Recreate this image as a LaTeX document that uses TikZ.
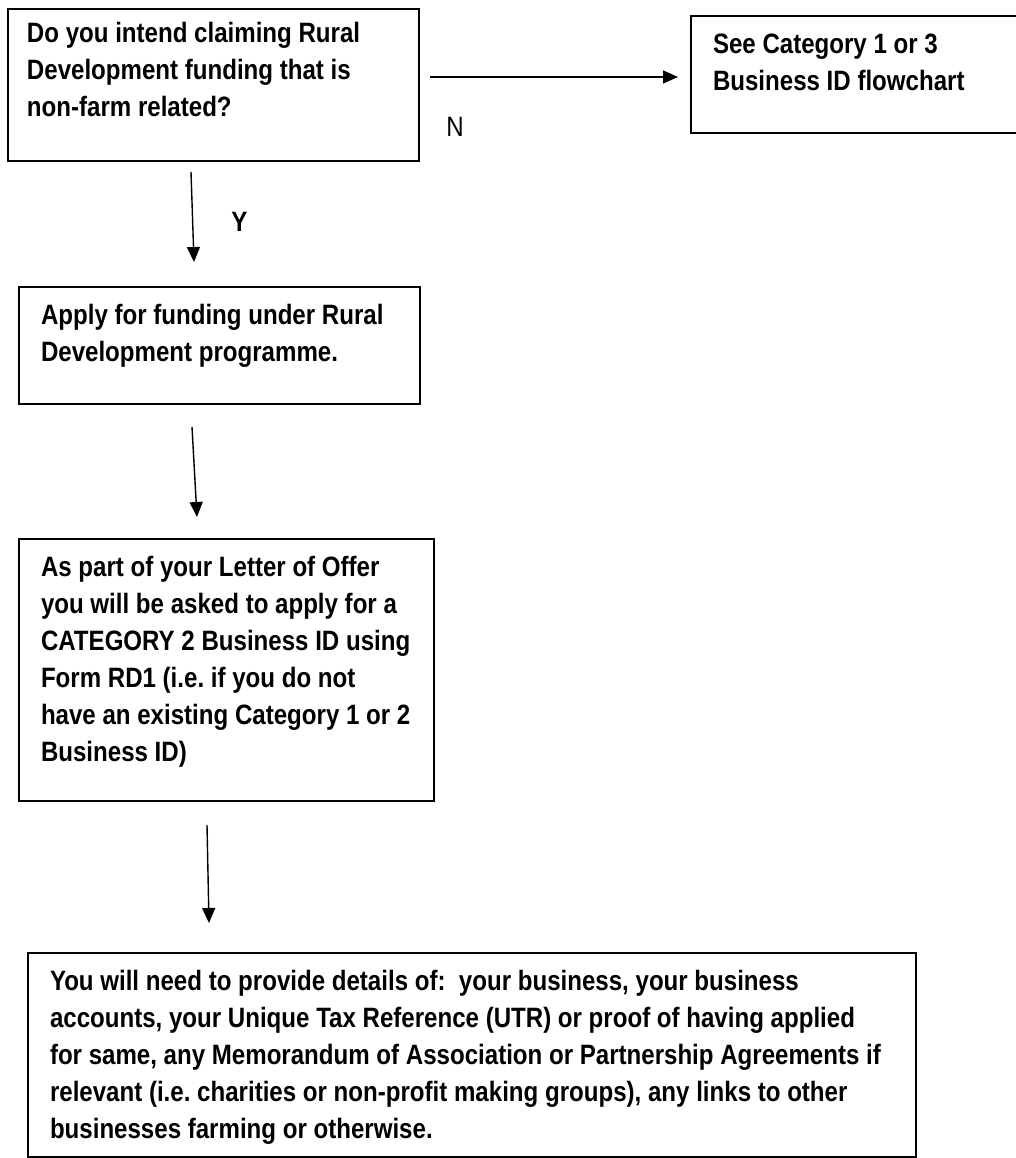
\documentclass[tikz,border=0pt]{standalone}
\usepackage{fontspec}
\newfontfamily\arialn{Liberation Sans}[FakeStretch=0.86]
\usetikzlibrary{arrows.meta,calc}
\frenchspacing
\newcommand{\flowfont}{\arialn\fontsize{28pt}{37pt}\selectfont}
\newcommand{\boxtext}[3]{%
  \parbox[c][#2][t]{#1}{\begin{tabular}[t]{@{}l@{}}#3\end{tabular}}}
\tikzset{
  flowbox/.style={draw, line width=2.4pt, outer sep=0pt, inner xsep=22pt,
    inner ysep=12pt, anchor=north west, font=\flowfont\bfseries},
  flowarrow/.style={line width=1.4pt, -{Triangle[length=15pt,width=13pt]}},
  flowlabel/.style={font=\flowfont, inner sep=0pt}
}

\begin{document}
\begin{tikzpicture}[x=1pt,y=-1pt]
	\useasboundingbox (0,0) rectangle (1016,1158);
	%BOXES
	\node[flowbox, inner xsep=19pt, inner ysep=8pt] (intend) at (8,9)
		{\boxtext{373pt}{136pt}{Do you intend claiming Rural\\Development funding that is\\non-farm related?}};
	\node[flowbox] (seecat) at (691,16)
		{\boxtext{283pt}{93pt}{See Category 1 or 3\\Business ID flowchart}};
	\node[flowbox] (apply) at (19,287)
		{\boxtext{357pt}{93pt}{Apply for funding under Rural\\Development programme.}};
	\node[flowbox] (offer) at (19,539)
		{\boxtext{371pt}{238pt}{As part of your Letter of Offer\\you will be asked to apply for a\\CATEGORY 2 Business ID using\\Form RD1 (i.e. if you do not\\have an existing Category 1 or 2\\Business ID)}};
	\node[flowbox] (details) at (28,953)
		{\boxtext{844pt}{180pt}{You will need to provide details of:~ your business, your business\\accounts, your Unique Tax Reference (UTR) or proof of having applied\\for same, any Memorandum of Association or Partnership Agreements if\\relevant (i.e. charities or non-profit making groups), any links to other\\businesses farming or otherwise.}};
	%ARROWS
	\draw[flowarrow] ([shift={(11pt,8pt)}]intend.east) -- node[flowlabel, pos=0, xshift=25pt, yshift=-50pt] (lbln) {N} ([shift={(-13pt,-2.5pt)}]seecat.west);
	\draw[flowarrow] ([shift={(183pt,-11pt)}]intend.south west) -- node[flowlabel, font=\flowfont\bfseries, xshift=47pt, yshift=-5pt] (lbly) {Y} ([shift={(175pt,25pt)}]apply.north west);
	\draw[flowarrow] ([shift={(173pt,-23pt)}]apply.south west) -- ([shift={(178pt,22pt)}]offer.north west);
	\draw[flowarrow] ([shift={(188pt,-24pt)}]offer.south west) -- ([shift={(181pt,30pt)}]details.north west);
\end{tikzpicture}
\end{document}
